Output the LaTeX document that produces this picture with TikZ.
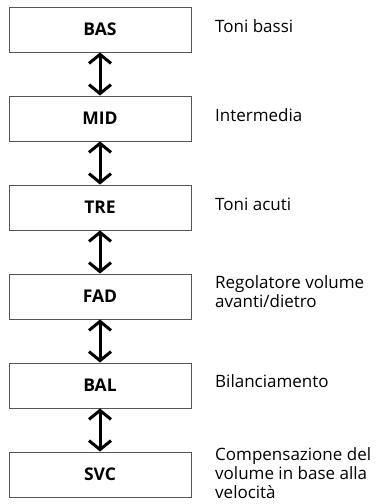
\documentclass[tikz,border=0pt]{standalone}
\usepackage{fontspec}
\setmainfont{Open Sans}
\usetikzlibrary{positioning,arrows.meta}
\definecolor{EdgeGray}{HTML}{555555}

\begin{document}
\begin{tikzpicture}[x=1pt,y=-1pt,
  ctl/.style={draw=EdgeGray, line width=0.9pt, minimum width=182pt, minimum height=45pt, inner sep=0pt, font=\fontsize{17.5}{19}\selectfont\bfseries},
  desc/.style={anchor=west, align=left, inner sep=0pt, font=\fontsize{17}{19}\selectfont},
  link/.style={{Straight Barb[length=9pt,width=22pt]}-{Straight Barb[length=9pt,width=22pt]}, line width=3pt}]
\useasboundingbox (0,0) rectangle (388,504);
\node[ctl] (bas) at (100,29.5)  {BAS};
\node[ctl] (mid) at (100,118.5) {MID};
\node[ctl] (tre) at (100,207.5) {TRE};
\node[ctl] (fad) at (100,296.5) {FAD};
\node[ctl] (bal) at (100,385.5) {BAL};
\node[ctl] (svc) at (100,474.5) {SVC};
\node[desc] (dbas) at (215,26.5)  {Toni bassi};
\node[desc] (dmid) at (215,115.5) {Intermedia};
\node[desc] (dtre) at (215,204.5) {Toni acuti};
\node[desc] (dfad) at (215,291.5) {Regolatore volume\\avanti/dietro};
\node[desc] (dbal) at (215,381)   {Bilanciamento};
\node[desc] (dsvc) at (215,473)   {Compensazione del\\volume in base alla\\velocità};
\draw[link] (bas) -- (mid);
\draw[link] (mid) -- (tre);
\draw[link] (tre) -- (fad);
\draw[link] (fad) -- (bal);
\draw[link] (bal) -- (svc);
\end{tikzpicture}
\end{document}
